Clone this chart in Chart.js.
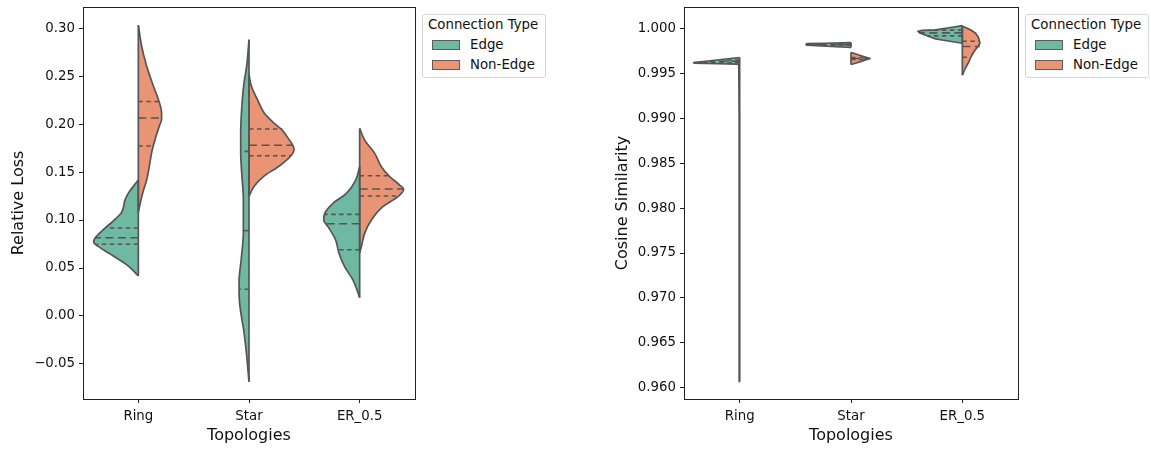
<!DOCTYPE html>
<html lang="en">

<head>
    <meta charset="UTF-8">
    <meta name="viewport" content="width=device-width, initial-scale=1.0">
    <title>Relative Loss and Cosine Similarity by Topology</title>
    <script src="https://cdn.jsdelivr.net/npm/chart.js@4.4.0/dist/chart.umd.min.js"></script>
    <style>
        body {
            margin: 0;
            background: #fff;
            font-family: "DejaVu Sans", sans-serif;
        }

        #wrap {
            position: relative;
            width: 1151px;
            height: 450px;
        }

        canvas {
            position: absolute;
            top: 0;
        }

        .legend {
            position: absolute;
            top: 14px;
            width: 124px;
            height: 64px;
            box-sizing: border-box;
            border: 1px solid #d6d6d6;
            border-radius: 3px;
            background: #fff;
            font-size: 13.33px;
            color: #111;
        }

        .legend div {
            position: absolute;
            line-height: 16px;
            white-space: nowrap;
        }

        .legend .patch {
            width: 28px;
            height: 10px;
            box-sizing: border-box;
            border: 1px solid #5c5c5c;
        }
    </style>
</head>

<body>
    <div id="wrap">
        <canvas id="lossChart" width="575" height="450" style="left:0"></canvas>
        <canvas id="simChart" width="576" height="450" style="left:575px"></canvas>
        <div class="legend" style="left:422px">
            <div style="left:5px;top:2px">Connection Type</div>
            <div class="patch" style="left:9px;top:25px;background:#6fb8a2"></div>
            <div style="left:47px;top:22px">Edge</div>
            <div class="patch" style="left:9px;top:45px;background:#e99575"></div>
            <div style="left:47px;top:42px">Non-Edge</div>
        </div>
        <div class="legend" style="left:1025px">
            <div style="left:5px;top:2px">Connection Type</div>
            <div class="patch" style="left:9px;top:25px;background:#6fb8a2"></div>
            <div style="left:47px;top:22px">Edge</div>
            <div class="patch" style="left:9px;top:45px;background:#e99575"></div>
            <div style="left:47px;top:42px">Non-Edge</div>
        </div>
    </div>
</body>
<script>
    const topologies = ["Ring", "Star", "ER_0.5"];
    const lossTicks = [-0.05, 0, 0.05, 0.10, 0.15, 0.20, 0.25, 0.30];
    const simTicks = [0.960, 0.965, 0.970, 0.975, 0.980, 0.985, 0.990, 0.995, 1.000];

    const edgeColor = "#6fb8a2";
    const nonEdgeColor = "#e99575";
    const outline = "#555555";

    // Relative Loss: y levels of each half violin and its half width there (category units)
    const lossRingEdgeY = [0.0417, 0.052, 0.0625, 0.071, 0.077, 0.082, 0.090, 0.101, 0.108, 0.121, 0.128, 0.1417];
    const lossRingEdgeW = [0, 0.09, 0.226, 0.343, 0.404, 0.386, 0.316, 0.208, 0.151, 0.12, 0.09, 0];
    const lossRingNonY = [0.1087, 0.128, 0.1417, 0.156, 0.170, 0.184, 0.198, 0.2049, 0.2118, 0.2257, 0.2396, 0.2604, 0.2812, 0.303];
    const lossRingNonW = [0, 0.039, 0.075, 0.099, 0.12, 0.151, 0.19, 0.21, 0.21, 0.181, 0.136, 0.075, 0.03, 0];
    const lossStarEdgeY = [-0.0684, -0.038, -0.017, 0.0007, 0.018, 0.0354, 0.0597, 0.0868, 0.1215, 0.149, 0.170, 0.191, 0.2257, 0.2431, 0.2604, 0.288];
    const lossStarEdgeW = [0, 0.024, 0.045, 0.07, 0.088, 0.09, 0.07, 0.051, 0.051, 0.066, 0.075, 0.075, 0.06, 0.045, 0.021, 0];
    const lossStarNonY = [0.1247, 0.135, 0.1458, 0.156, 0.1667, 0.1736, 0.184, 0.194, 0.201, 0.2118, 0.2257, 0.2396, 0.2517];
    const lossStarNonW = [0, 0.045, 0.136, 0.271, 0.377, 0.407, 0.361, 0.298, 0.226, 0.136, 0.075, 0.021, 0];
    const lossErEdgeY = [0.0191, 0.0375, 0.0514, 0.0653, 0.0792, 0.0931, 0.100, 0.107, 0.1174, 0.1278, 0.1417, 0.1556];
    const lossErEdgeW = [0, 0.06, 0.136, 0.187, 0.217, 0.286, 0.325, 0.316, 0.241, 0.12, 0.036, 0];
    const lossErNonY = [0.066, 0.0722, 0.0861, 0.1, 0.1139, 0.1243, 0.132, 0.1365, 0.1452, 0.1556, 0.1695, 0.1833, 0.1955];
    const lossErNonW = [0, 0.015, 0.045, 0.106, 0.21, 0.346, 0.397, 0.361, 0.271, 0.196, 0.136, 0.045, 0];

    // quartiles (q1, median, q3) and the half width where each line meets the outline
    const lossRingEdgeQ = [0.0747, 0.0816, 0.0917];
    const lossRingEdgeQW = [0.377, 0.39, 0.29];
    const lossRingNonQ = [0.1771, 0.2063, 0.2236];
    const lossRingNonQW = [0.135, 0.21, 0.185];
    const lossStarEdgeQ = [0.0278, 0.089, 0.1715];
    const lossStarEdgeQW = [0.09, 0.051, 0.075];
    const lossStarNonQ = [0.167, 0.178, 0.1948];
    const lossStarNonQW = [0.377, 0.39, 0.30];
    const lossErEdgeQ = [0.0691, 0.0962, 0.1059];
    const lossErEdgeQW = [0.196, 0.307, 0.316];
    const lossErNonQ = [0.125, 0.1323, 0.1462];
    const lossErNonQW = [0.33, 0.397, 0.265];

    // Cosine Similarity
    const simRingEdgeY = [0.96067, 0.9700, 0.9800, 0.9900, 0.99597, 0.99603, 0.99608, 0.99616, 0.99622, 0.99636, 0.99647, 0.99658, 0.99669, 0.99677];
    const simRingEdgeW = [0, 0.003, 0.004, 0.004, 0.008, 0.02, 0.2, 0.41, 0.413, 0.305, 0.224, 0.144, 0.063, 0];
    const simStarEdgeY = [0.99789, 0.99803, 0.99814, 0.99822, 0.99831, 0.99836, 0.99844];
    const simStarEdgeW = [0, 0.225, 0.395, 0.404, 0.395, 0.235, 0];
    const simStarNonY = [0.99599, 0.99614, 0.99632, 0.99666, 0.997, 0.9972, 0.99733];
    const simStarNonW = [0, 0.04, 0.085, 0.171, 0.085, 0.036, 0];
    const simErEdgeY = [0.998364, 0.998642, 0.998843, 0.999254, 0.999477, 0.999588, 0.9997, 0.999789, 0.999844, 1.000089, 1.000334];
    const simErEdgeW = [0, 0.141, 0.24, 0.329, 0.377, 0.39, 0.399, 0.359, 0.24, 0.119, 0];
    const simErNonY = [0.994802, 0.995581, 0.996327, 0.996917, 0.99744, 0.997919, 0.998364, 0.999032, 0.999477, 0.999811, 1.000033, 1.000256];
    const simErNonW = [0, 0.027, 0.06, 0.081, 0.105, 0.135, 0.159, 0.144, 0.119, 0.081, 0.045, 0];

    const simRingEdgeQ = [0.9962, 0.99635, 0.9965];
    const simRingEdgeQW = [0.40, 0.27, 0.144];
    const simStarEdgeQ = [0.99815, 0.9982, 0.99826];
    const simStarEdgeQW = [0.39, 0.40, 0.40];
    const simStarNonQ = [0.99655, 0.99666, 0.99678];
    const simStarNonQW = [0.13, 0.17, 0.12];
    const simErEdgeQ = [0.99918, 0.99952, 0.99982];
    const simErEdgeQW = [0.31, 0.386, 0.30];
    const simErNonQ = [0.99681, 0.9980, 0.99859];
    const simErNonQW = [0.075, 0.158, 0.155];

    const font = "'DejaVu Sans', sans-serif";

    // one half violin = filled outline + its part of the centre line + quartile lines
    function violinSets(halves, smooth) {
        let sets = [];
        halves.forEach(h => {
            const [center, side, ys, ws, qs, qws, color] = h;
            sets.push({
                data: ys.map((y, i) => ({ x: center + side * ws[i], y: y })),
                backgroundColor: color,
                borderColor: outline,
                borderWidth: 1.7,
                borderJoinStyle: "round",
                fill: "shape",
                pointRadius: 0,
                tension: 0,
                cubicInterpolationMode: smooth ? "monotone" : "default",
                order: 3
            });
            sets.push({
                data: [{ x: center, y: ys[0] }, { x: center, y: ys[ys.length - 1] }],
                borderColor: outline,
                borderWidth: 1.7,
                pointRadius: 0,
                fill: false,
                order: 2
            });
            qs.forEach((q, k) => {
                sets.push({
                    data: [{ x: center, y: q }, { x: center + side * qws[k], y: q }],
                    borderColor: outline,
                    borderWidth: 1.6,
                    borderDash: k === 1 ? [8, 4.5] : [4.5, 3.5],
                    pointRadius: 0,
                    fill: false,
                    order: 1
                });
            });
        });
        return sets;
    }

    // top and right spines of the frame
    function frameAxis(position, min, max) {
        return {
            type: "linear",
            position: position,
            min: min,
            max: max,
            ticks: { display: false },
            grid: { display: false },
            border: { display: true, color: "#222", width: 1 },
            afterFit: s => {
                if (position === "top") s.height = 7; else s.width = 0;
            }
        };
    }

    function createChart(canvasId, datasets, yMin, yMax, yTicks, decimals, yTitle, yWidth, titlePad, rightPad) {
        const ctx = document.getElementById(canvasId).getContext("2d");
        return new Chart(ctx, {
            type: "line",
            data: { datasets: datasets },
            options: {
                responsive: false,
                animation: false,
                events: [],
                indexAxis: "y",
                layout: { padding: { left: 0, right: rightPad, top: 0, bottom: 0 } },
                plugins: { legend: { display: false }, tooltip: { enabled: false } },
                scales: {
                    x: {
                        type: "linear",
                        position: "bottom",
                        min: -0.5,
                        max: 2.5,
                        afterBuildTicks: s => { s.ticks = topologies.map((t, i) => ({ value: i })); },
                        afterFit: s => { s.height = 51; s.paddingLeft = 0; s.paddingRight = 0; },
                        ticks: {
                            callback: v => topologies[v],
                            font: { family: font, size: 13.33 },
                            color: "#111",
                            padding: 6,
                            maxRotation: 0
                        },
                        grid: { drawOnChartArea: false, tickLength: 4, color: "#222" },
                        border: { display: true, color: "#222", width: 1 },
                        title: {
                            display: true,
                            text: "Topologies",
                            font: { family: font, size: 16 },
                            color: "#111",
                            padding: { top: 0, bottom: 5 }
                        }
                    },
                    y: {
                        type: "linear",
                        position: "left",
                        min: yMin,
                        max: yMax,
                        afterBuildTicks: s => { s.ticks = yTicks.map(v => ({ value: v })); },
                        afterFit: s => { s.width = yWidth; s.paddingTop = 0; s.paddingBottom = 0; },
                        ticks: {
                            callback: v => (v < 0 ? "\u2212" : "") + Math.abs(v).toFixed(decimals),
                            font: { family: font, size: 13.33 },
                            color: "#111",
                            padding: 4
                        },
                        grid: { drawOnChartArea: false, tickLength: 4, color: "#222" },
                        border: { display: true, color: "#222", width: 1 },
                        title: {
                            display: true,
                            text: yTitle,
                            font: { family: font, size: 16 },
                            color: "#111",
                            padding: { top: titlePad, bottom: 0 }
                        }
                    },
                    x2: frameAxis("top", -0.5, 2.5),
                    y2: frameAxis("right", yMin, yMax)
                }
            }
        });
    }

    const lossSets = violinSets([
        [0, -1, lossRingEdgeY, lossRingEdgeW, lossRingEdgeQ, lossRingEdgeQW, edgeColor],
        [0, 1, lossRingNonY, lossRingNonW, lossRingNonQ, lossRingNonQW, nonEdgeColor],
        [1, -1, lossStarEdgeY, lossStarEdgeW, lossStarEdgeQ, lossStarEdgeQW, edgeColor],
        [1, 1, lossStarNonY, lossStarNonW, lossStarNonQ, lossStarNonQW, nonEdgeColor],
        [2, -1, lossErEdgeY, lossErEdgeW, lossErEdgeQ, lossErEdgeQW, edgeColor],
        [2, 1, lossErNonY, lossErNonW, lossErNonQ, lossErNonQW, nonEdgeColor]
    ], true);

    const simSets = violinSets([
        [0, -1, simRingEdgeY, simRingEdgeW, simRingEdgeQ, simRingEdgeQW, edgeColor],
        [1, -1, simStarEdgeY, simStarEdgeW, simStarEdgeQ, simStarEdgeQW, edgeColor],
        [1, 1, simStarNonY, simStarNonW, simStarNonQ, simStarNonQW, nonEdgeColor],
        [2, -1, simErEdgeY, simErEdgeW, simErEdgeQ, simErEdgeQW, edgeColor],
        [2, 1, simErNonY, simErNonW, simErNonQ, simErNonQW, nonEdgeColor]
    ], false);

    let lossChart = createChart("lossChart", lossSets, -0.0865, 0.322, lossTicks, 2, "Relative Loss", 83, 9, 160);
    let simChart = createChart("simChart", simSets, 0.95874, 1.0024, simTicks, 3, "Cosine Similarity", 109, 38, 133);
</script>

</html>
